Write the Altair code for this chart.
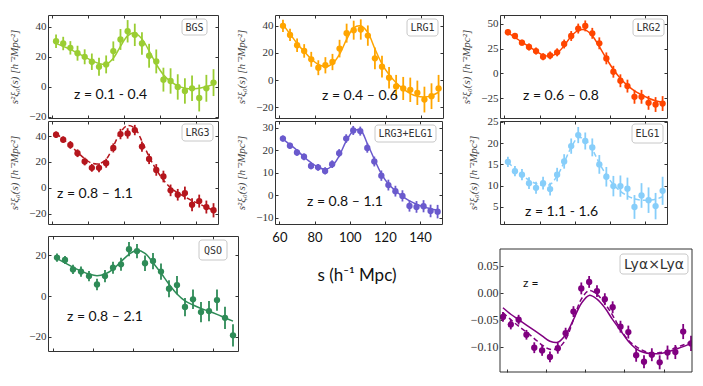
import altair as alt
import pandas as pd

# separation bins (h^-1 Mpc)
S = [62, 66, 70, 74, 78, 82, 86, 90, 94, 98, 102, 106, 110, 114, 118, 122, 126, 130, 134, 138, 142, 146, 150]
S_LYA = [58, 62, 66, 70, 74, 78, 82, 86, 90, 94, 98, 102, 106, 110, 114, 118, 122, 126, 130, 134, 138, 142, 146, 150, 154]
X_TICKS = [60, 80, 100, 120, 140]

bgs_xi = [30.4, 28.9, 26.0, 22.4, 20.0, 16.7, 13.3, 14.9, 23.8, 31.6, 37.1, 34.7, 28.9, 20.7, 16.9, 4.7, 3.8, -0.2, -2.9, -1.1, -7.6, -1.1, 2.7]
bgs_err = [4.5, 4.5, 4.5, 5, 5, 5.5, 6, 6, 6.5, 7, 7.5, 7.5, 7.5, 8, 8, 8, 8.5, 8.5, 8.5, 8.5, 9, 9, 9]
bgs_model = [29, 27, 25, 22.5, 20, 17.5, 15.5, 15, 19, 27, 34, 36, 32, 24, 15, 8, 3.5, 0.5, -1, -1.5, -1, 0, 1.5]

lrg1_xi = [40.0, 33.3, 25.7, 21.5, 15.3, 9.1, 10.9, 13.3, 23.2, 34.6, 36.8, 37.3, 32.8, 16.0, 9.9, 1.7, -4.7, -6.2, -7.2, -9.4, -14.4, -11.9, -6.2]
lrg1_err = [4.5, 4.5, 5, 5, 5.5, 5.5, 6, 6, 6.5, 7, 7, 7.5, 7.5, 8, 8, 8, 8.5, 8.5, 9, 9, 9.5, 9.5, 10]
lrg1_model = [41, 34, 27, 21, 15.5, 11.5, 10, 12, 19, 30, 38.5, 40, 35, 23, 12, 4, -2, -6.5, -10, -12, -12.5, -11.5, -9]

lrg2_xi = [41.6, 37.8, 31.1, 26.7, 22.6, 16.9, 18.2, 21.3, 29.7, 37.8, 45.3, 48.0, 40.5, 30.4, 15.2, 1.7, -7.4, -12.8, -23.6, -23.6, -29.7, -31.4, -30.4]
lrg2_err = [3, 3, 3, 3.5, 3.5, 3.5, 4, 4, 4.5, 5, 5, 5.5, 5.5, 6, 6, 6, 6.5, 6.5, 7, 7, 7, 7.5, 7.5]
lrg2_model = [41, 36.5, 31.5, 27, 22.5, 18.5, 17.5, 20.5, 28, 37.5, 43.5, 44, 38, 27, 15, 4, -5, -12, -17.5, -21.5, -25, -27.5, -29]

lrg3_xi = [41.0, 37.2, 33.1, 26.7, 20.3, 15.4, 15.4, 19.0, 30.8, 41.5, 42.0, 44.6, 31.8, 22.3, 13.8, 8.7, -2.0, -5.4, -4.1, -13.1, -10.3, -14.9, -17.4]
lrg3_err = [2.5, 2.5, 3, 3, 3, 3, 3.5, 3.5, 3.5, 4, 4, 4, 4, 4, 4.5, 4.5, 4.5, 4.5, 5, 5, 5, 5, 5.5]
lrg3_model = [42, 37.5, 32.5, 27.5, 22.5, 19, 18.5, 22, 32, 43, 48, 46, 36, 24, 14, 6, 0, -4, -7, -10, -12.5, -15, -17.5]

le_xi = [25.2, 22.0, 19.0, 17.1, 13.0, 12.4, 10.8, 13.8, 18.7, 25.2, 28.8, 28.5, 21.0, 15.0, 8.7, 4.5, 1.8, -0.3, -4.8, -5.2, -4.9, -7.0, -7.3]
le_err = [1.3, 1.3, 1.4, 1.5, 1.5, 1.5, 1.6, 1.7, 1.8, 1.9, 2, 2, 2.1, 2.2, 2.3, 2.4, 2.4, 2.5, 2.5, 2.6, 2.7, 2.8, 3]
le_model = [25, 22.5, 20, 17, 14.5, 12.5, 11.5, 13, 17.5, 24, 28.5, 29, 23, 16, 9.5, 5, 2, -0.5, -2.5, -4, -5.2, -6, -6.7]

elg1_xi = [15.6, 13.4, 12.6, 10.6, 9.5, 10.6, 9.2, 12.6, 15.7, 19.3, 21.9, 20.5, 19.0, 15.0, 12.1, 9.9, 9.9, 9.3, 5.0, 7.7, 6.6, 5.2, 8.8]
elg1_err = [1.2, 1.2, 1.3, 1.4, 1.4, 1.5, 1.5, 1.6, 1.7, 1.8, 1.9, 2, 2.1, 2.2, 2.3, 2.4, 2.5, 2.6, 2.8, 2.9, 3, 3.1, 3.3]
elg1_model = [15.5, 14, 12.5, 11.3, 10.5, 10, 10.3, 12.3, 15.5, 19, 21.3, 20.8, 18.5, 15.3, 12.5, 10.3, 8.7, 7.6, 6.9, 6.6, 6.6, 6.8, 7.4]

qso_xi = [18.9, 17.7, 13.1, 12.0, 9.8, 5.7, 9.8, 13.9, 15.6, 23.0, 22.1, 16.1, 17.2, 12.0, 3.6, 5.4, -5.4, -1.6, -7.9, -7.4, -2.0, -10.7, -19.3]
qso_err = [2, 2, 2.3, 2.5, 2.5, 2.8, 3, 3, 3.2, 3.5, 3.5, 3.8, 4, 4, 4.2, 4.5, 4.5, 4.8, 5, 5, 5.2, 5.5, 5.5]
qso_model = [18.4, 16.3, 14.1, 12.3, 10.8, 10.0, 10.8, 13.1, 16.9, 20.5, 22.5, 21.0, 16.4, 11.3, 5.8, 1.0, -2.4, -4.4, -6.1, -7.5, -9.0, -10.7, -12.3]

lya_xi = [-0.045, -0.059, -0.050, -0.078, -0.102, -0.107, -0.119, -0.103, -0.075, -0.035, 0.008, 0.020, 0.003, -0.012, -0.027, -0.063, -0.073, -0.116, -0.128, -0.115, -0.129, -0.111, -0.110, -0.072, -0.094]
lya_err = [0.009, 0.009, 0.009, 0.009, 0.010, 0.010, 0.010, 0.010, 0.010, 0.010, 0.011, 0.011, 0.011, 0.011, 0.011, 0.011, 0.012, 0.012, 0.012, 0.012, 0.013, 0.013, 0.013, 0.014, 0.014]
lya_model_a = [-0.028, -0.040, -0.050, -0.060, -0.070, -0.080, -0.090, -0.092, -0.078, -0.050, -0.020, -0.005, -0.012, -0.028, -0.050, -0.070, -0.090, -0.104, -0.111, -0.113, -0.113, -0.110, -0.105, -0.100, -0.094]
lya_model_b = [-0.037, -0.050, -0.062, -0.073, -0.085, -0.097, -0.105, -0.103, -0.087, -0.050, -0.012, 0.004, -0.003, -0.020, -0.042, -0.068, -0.088, -0.100, -0.108, -0.112, -0.111, -0.108, -0.102, -0.097, -0.091]

YTITLE = "s²ξ₀(s) [h⁻²Mpc²]"
SERIF = "Liberation Serif"
SANS = "Lato"
MONO = "DejaVu Sans Mono"


def panel(label, s, xi, err, models, color, ydom, yticks, w, h, ztext, zpos, box,
          xdom=(57.5, 152.5), title=True, xlabels=False, yrange=None, yfmt=None,
          frame_top=None, zsize=14, labsize=10, labfont=MONO, mirror=True):
    df = pd.DataFrame({"s": s, "xi": xi,
                       "lo": [v - e for v, e in zip(xi, err)],
                       "hi": [v + e for v, e in zip(xi, err)]})
    xs = alt.Scale(domain=list(xdom), nice=False, zero=False)
    ys_kw = dict(domain=list(ydom), nice=False, zero=False)
    if yrange is not None:
        ys_kw["range"] = yrange
    ys = alt.Scale(**ys_kw)
    xax_kw = dict(values=X_TICKS, title=None, labels=xlabels)
    if xlabels:
        xax_kw.update(labelFont=SANS, labelFontSize=13, labelColor="#111", labelPadding=7)
    xax = alt.Axis(**xax_kw)
    yax_kw = dict(values=yticks, title=YTITLE if title else None)
    if yfmt:
        yax_kw["format"] = yfmt
        yax_kw["labelFontSize"] = 12
    yax = alt.Axis(**yax_kw)

    layers = []
    first = True
    for m, dash in models:
        dm = pd.DataFrame({"s": s, "m": m})
        kw = dict(color=color, strokeWidth=1.5, interpolate="catmull-rom", clip=True)
        if dash:
            kw["strokeDash"] = [5, 3]
        layers.append(alt.Chart(dm).mark_line(**kw).encode(
            x=alt.X("s:Q", scale=xs, axis=xax if first else None),
            y=alt.Y("m:Q", scale=ys, axis=yax if first else None)))
        first = False
    layers.append(alt.Chart(df).mark_rule(color=color, strokeWidth=1.8, clip=True).encode(
        x=alt.X("s:Q", scale=xs, axis=None), y=alt.Y("lo:Q", scale=ys, axis=None), y2="hi:Q"))
    layers.append(alt.Chart(df).mark_circle(color=color, size=40, opacity=1, clip=True).encode(
        x=alt.X("s:Q", scale=xs, axis=None), y=alt.Y("xi:Q", scale=ys, axis=None)))
    if mirror:
        layers.append(alt.Chart(df).mark_circle(opacity=0, size=1).encode(
            x=alt.X("s:Q", scale=xs, axis=alt.Axis(orient="top", values=X_TICKS, labels=False, title=None)),
            y=alt.Y("xi:Q", scale=ys, axis=alt.Axis(orient="right", values=yticks, labels=False, title=None))))

    ann = pd.DataFrame({"t": [label]})
    bx0, bx1, by0, by1 = box
    layers.append(alt.Chart(ann).mark_rect(fill="white", fillOpacity=0.9, stroke="#c8c8c8",
                                           strokeWidth=1, cornerRadius=3).encode(
        x=alt.value(bx0), x2=alt.value(bx1), y=alt.value(by0), y2=alt.value(by1)))
    layers.append(alt.Chart(ann).mark_text(font=labfont, fontSize=labsize, color="#333").encode(
        x=alt.value((bx0 + bx1) / 2), y=alt.value((by0 + by1) / 2 + 0.5), text="t:N"))
    zdf = pd.DataFrame({"t": [ztext]})
    layers.append(alt.Chart(zdf).mark_text(align="left", baseline="middle", font=SANS,
                                           fontSize=zsize, color="#111").encode(
        x=alt.value(zpos[0]), y=alt.value(zpos[1]), text="t:N"))
    props = dict(width=w, height=h)
    if frame_top is not None:
        layers.append(alt.Chart(ann).mark_rect(fillOpacity=0, stroke="#333", strokeWidth=1).encode(
            x=alt.value(0), x2=alt.value(w), y=alt.value(frame_top), y2=alt.value(h)))
        props["view"] = alt.ViewBackground(strokeOpacity=0)
    return alt.layer(*layers).properties(**props).resolve_axis(x="independent", y="independent")


bgs = panel("BGS", S, bgs_xi, bgs_err, [(bgs_model, False)], "#9ACD32", (-21, 48),
            [-20, 0, 20, 40], 170, 103, "z =  0.1 - 0.4", (26, 80), (134, 159, 4, 20))
lrg1 = panel("LRG1", S, lrg1_xi, lrg1_err, [(lrg1_model, False)], "#FFA500", (-28, 48),
             [-20, 0, 20, 40], 168, 103, "z = 0.4 – 0.6", (47, 81), (132, 163, 4, 21))
lrg2 = panel("LRG2", S, lrg2_xi, lrg2_err, [(lrg2_model, False)], "#FF4500", (-45, 59),
             [-25, 0, 25, 50], 167, 103, "z = 0.6 – 0.8", (23, 81), (133, 164, 4, 21))
lrg3 = panel("LRG3", S, lrg3_xi, lrg3_err, [(lrg3_model, True)], "#B5161D", (-28, 51.6),
             [-20, 0, 20, 40], 170, 103, "z = 0.8 – 1.1", (9, 73), (134, 165, 3, 20))
le = panel("LRG3+ELG1", S, le_xi, le_err, [(le_model, False)], "#6A5ACD", (-12.8, 33),
           [-10, 0, 10, 20, 30], 167, 103, "z = 0.8 – 1.1", (32, 81), (100, 161, 4, 21),
           xlabels=True)
elg1 = panel("ELG1", S, elg1_xi, elg1_err, [(elg1_model, True)], "#87CEFA", (1, 25.2),
             [5, 10, 15, 20, 25], 167, 103, "z = 1.1  - 1.6", (25, 91), (132, 163, 3, 22))
qso = panel("QSO", S, qso_xi, qso_err, [(qso_model, False)], "#2E8B57", (-27, 29.5),
            [-20, 0, 20], 190, 115, "z = 0.8 – 2.1", (19, 81), (151, 179, 4, 24),
            title=False)
lya = panel("Lyα×Lyα", S_LYA, lya_xi, lya_err, [(lya_model_a, False), (lya_model_b, True)],
            "#800080", (-0.147, 0.081), [-0.10, -0.05, 0.0, 0.05], 192, 136, "z =",
            (23, 47), (120, 188, 18, 38), xdom=(56.5, 154.5), title=False,
            yrange=[136, 13], yfmt=".2f", frame_top=13, zsize=12, labsize=14,
            labfont="DejaVu Sans", mirror=False)

spacer_df = pd.DataFrame({"a": [0]})


def spacer():
    return alt.Chart(spacer_df).mark_point(opacity=0).encode(
        x=alt.value(0), y=alt.value(0)).properties(
        width=10, height=6, view=alt.ViewBackground(strokeOpacity=0))


xlab = alt.Chart(pd.DataFrame({"t": ["s (h⁻¹ Mpc)"]})).mark_text(
    font=SANS, fontSize=17, color="#111").encode(
    x=alt.value(82), y=alt.value(40), text="t:N").properties(
    width=188, height=115, view=alt.ViewBackground(strokeOpacity=0))

chart = alt.concat(
    bgs, lrg1, lrg2,
    lrg3, le, elg1,
    spacer(), spacer(), spacer(),
    qso, xlab, lya,
    columns=3, spacing={"row": 3, "column": 37}, bounds="flush", align="each",
).properties(
    padding={"left": 0, "top": 6, "right": 0, "bottom": 0}
).configure_view(
    stroke="#333", strokeWidth=1
).configure_axis(
    domain=False, grid=False, tickColor="#333", tickSize=3, offset=-3, labelFont=SERIF,
    labelFontSize=11, labelColor="#333", labelPadding=2, titleFont=SERIF,
    titleFontSize=11, titleFontStyle="italic", titleFontWeight="normal",
    titleColor="#444", titlePadding=9
)

chart.save("out.html", embed_options={"renderer": "svg", "actions": False})
